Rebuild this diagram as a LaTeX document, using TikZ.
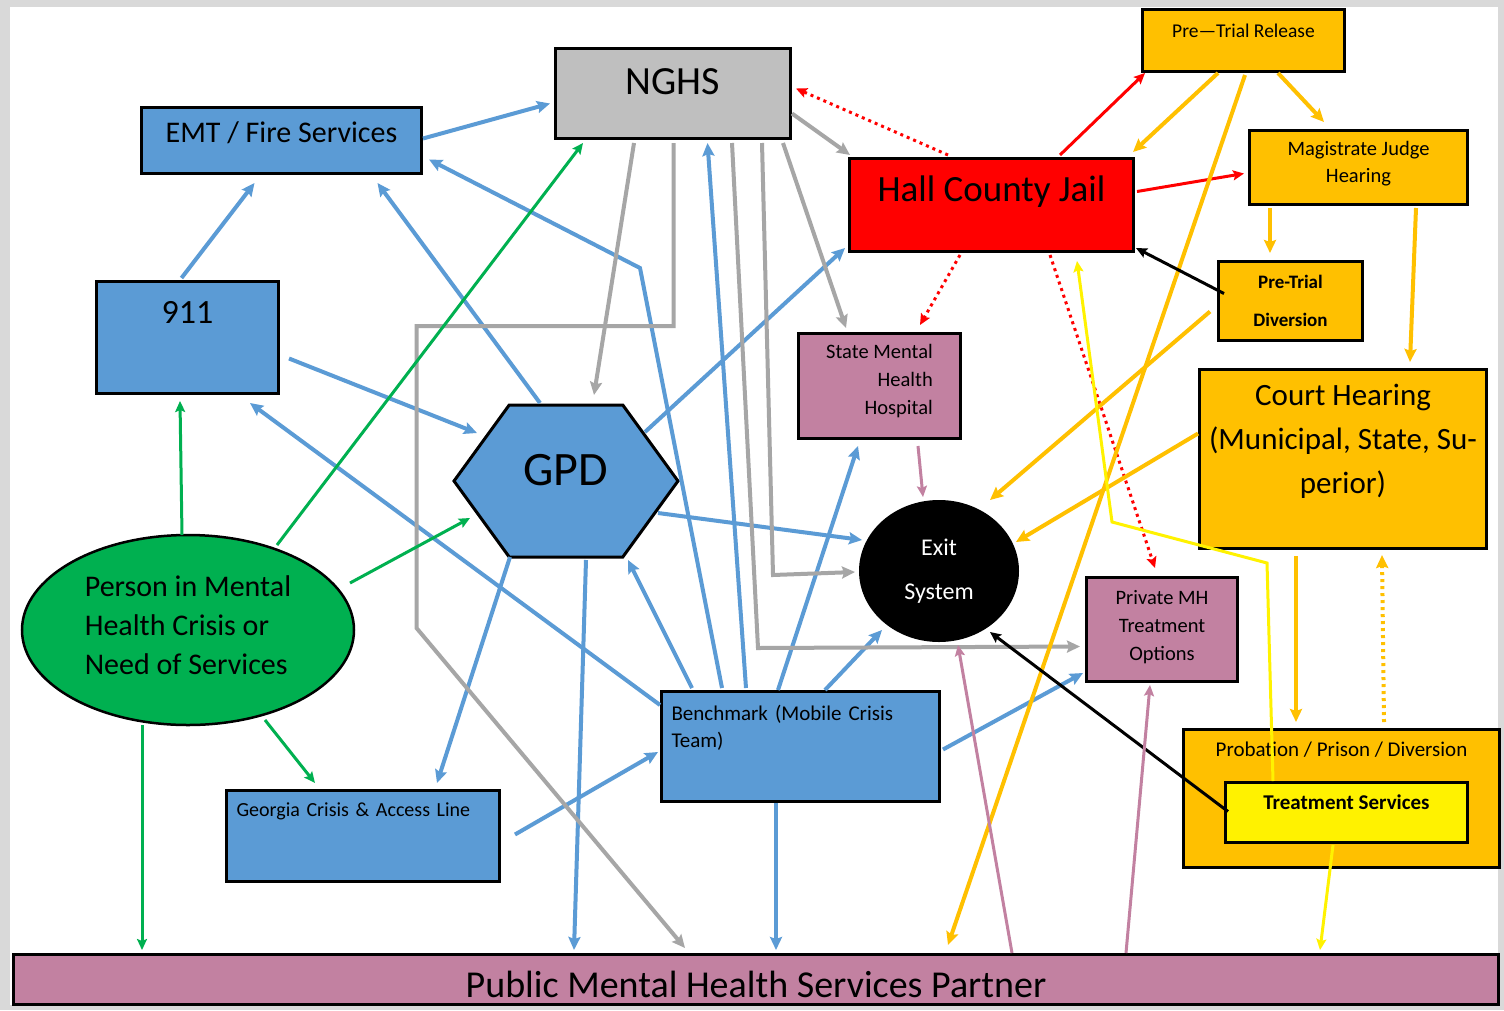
\documentclass[tikz,border=0pt]{standalone}
\usepackage{fontspec}
\setmainfont{Carlito}
\usepackage{tikz}
\usetikzlibrary{shapes.geometric, shapes.symbols, arrows.meta, positioning, calc}
\definecolor{crisisblue}{RGB}{91, 155, 213}
\definecolor{crisisgray}{RGB}{191, 191, 191}
\definecolor{linegray}{RGB}{166, 166, 166}
\definecolor{courtorange}{RGB}{255, 192, 0}
\definecolor{mhpink}{RGB}{194, 129, 161}
\definecolor{persongreen}{RGB}{0, 176, 80}
\definecolor{framegray}{RGB}{217, 217, 217}

\begin{document}
\begin{tikzpicture}[
    x=1pt, y=-1pt,
    base/.style={draw, line width=3pt, anchor=north west, inner sep=0pt, align=center},
    bluebox/.style={base, fill=crisisblue},
    orangebox/.style={base, fill=courtorange},
    pinkbox/.style={base, fill=mhpink},
    arrow/.style={-{Stealth[length=13pt, width=12pt, inset=2pt]}, line width=4pt},
    thinarrow/.style={-{Stealth[length=11pt, width=10pt, inset=2pt]}, line width=3pt},
    dots/.style={dash pattern=on 3pt off 4pt},
    bluearrow/.style={arrow, crisisblue},
    grayarrow/.style={arrow, linegray},
    orangearrow/.style={arrow, courtorange},
    redarrow/.style={thinarrow, red},
    blackarrow/.style={thinarrow, black},
    yellowarrow/.style={thinarrow, yellow},
    greenarrow/.style={thinarrow, persongreen},
    pinkarrow/.style={thinarrow, mhpink}
]

    % --- FRAME ---
    \useasboundingbox (0,0) rectangle (1504,1010);
    \fill[framegray] (0,0) rectangle (1504,1010);
    \fill[white] (10,7) rectangle (1498,1005);

    % --- FIRST RESPONDERS ---
    \node[bluebox, minimum width=280pt, minimum height=66pt, text depth=17pt, font=\fontsize{30}{36}\selectfont] (emt) at (140,106) {EMT / Fire Services};
    \node[bluebox, minimum width=182pt, minimum height=112pt, text depth=50pt, font=\fontsize{34}{40}\selectfont] (n911) at (95,280) {911};
    \node[signal, signal to=west and east, signal pointer angle=108, draw, line width=3pt, fill=crisisblue, minimum width=224pt, minimum height=152pt, inner sep=0pt, text depth=22pt, font=\fontsize{48}{56}\selectfont] (gpd) at (566,481) {GPD};
    \node[bluebox, minimum width=278pt, minimum height=110pt, text width=258pt, inner xsep=10pt, align=left, text depth=68pt, font=\fontsize{21}{27}\selectfont] (bench) at (660,690) {Benchmark (Mobile Crisis\\Team)};
    \node[bluebox, minimum width=273pt, minimum height=91pt, text width=253pt, inner xsep=10pt, align=left, text depth=53pt, font=\fontsize{20}{24}\selectfont] (gcal) at (225,789) {Georgia Crisis \& Access Line};

    % --- HOSPITALS AND EXIT ---
    \node[base, fill=crisisgray, minimum width=235pt, minimum height=90pt, text depth=24pt, font=\fontsize{40}{48}\selectfont] (nghs) at (554,47) {NGHS};
    \node[pinkbox, minimum width=162pt, minimum height=105pt, align=right, text depth=13pt, font=\fontsize{20.5}{28}\selectfont] (hosp) at (797,332) {State Mental\\Health\\Hospital};
    \node[ellipse, fill=black, text=white, minimum width=160pt, minimum height=142pt, inner sep=0pt, align=center, font=\fontsize{24}{44}\selectfont] (exit) at (939,571) {Exit\\System};
    \node[pinkbox, minimum width=151pt, minimum height=104pt, text depth=8pt, font=\fontsize{20.5}{28}\selectfont] (priv) at (1085,576) {Private MH\\Treatment\\Options};

    % --- JUSTICE ---
    \node[base, fill=red, minimum width=284pt, minimum height=93pt, text depth=33pt, font=\fontsize{37}{44}\selectfont] (jail) at (848,157) {Hall County Jail};
    \node[orangebox, minimum width=202pt, minimum height=62pt, text depth=20pt, font=\fontsize{19.5}{23}\selectfont] (release) at (1141,8) {Pre—Trial Release};
    \node[orangebox, minimum width=218pt, minimum height=74pt, text depth=11pt, font=\fontsize{20.5}{27}\selectfont] (magis) at (1248,129) {Magistrate Judge\\Hearing};
    \node[orangebox, minimum width=144pt, minimum height=79pt, font=\fontsize{19}{38}\selectfont\bfseries] (ptdiv) at (1217,260) {Pre-Trial\\Diversion};
    \node[orangebox, minimum width=287pt, minimum height=179pt, text depth=40pt, font=\fontsize{31}{44}\selectfont] (court) at (1198,368) {Court Hearing\\(Municipal, State, Su-\\perior)};
    \node[orangebox, minimum width=316pt, minimum height=138pt, text depth=98pt, font=\fontsize{21}{25}\selectfont] (prob) at (1182,728) {Probation / Prison / Diversion};
    \node[base, fill=yellow, minimum width=242pt, minimum height=60pt, text depth=20pt, font=\fontsize{21}{25}\selectfont\bfseries] (treat) at (1224,781) {Treatment Services};

    % --- PERSON AND PARTNER ---
    \node[ellipse, draw, line width=2.5pt, fill=persongreen, minimum width=332pt, minimum height=190pt, inner sep=0pt, align=left, text depth=9pt, font=\fontsize{30}{39}\selectfont] (person) at (188,630) {Person in Mental\\Health Crisis or\\Need of Services};
    \node[pinkbox, minimum width=1485pt, minimum height=50pt, text height=40pt, text depth=4pt, font=\fontsize{38}{44}\selectfont] (public) at (12,953) {Public Mental Health Services Partner};

    % --- BLUE CONNECTORS ---
    \draw[bluearrow] ($(emt.east)+(0,-2)$) -- ($(nghs.west)+(-4,10)$);
    \draw[bluearrow] ($(n911.north)+(-6,-2)$) -- ($(emt.south)+(-27,8)$);
    \draw[bluearrow] ($(gpd.center)+(-26,-78)$) -- ($(emt.south)+(96,8)$);
    \draw[bluearrow] ($(bench.north west)+(62,-2)$) -- ++(-82,-420) -- ($(emt.east)+(6,19)$);
    \draw[bluearrow] ($(bench.north west)+(86,-2)$) -- ($(nghs.south)+(34.5,3)$);
    \draw[bluearrow] ($(gpd.center)+(79,-49)$) -- ($(jail.south west)+(-3,-5)$);
    \draw[bluearrow] ($(n911.east)+(9,21)$) -- ($(gpd.center)+(-89,-48)$);
    \draw[bluearrow] ($(bench.north west)+(0,15)$) -- ($(n911.south east)+(-30,8)$);
    \draw[bluearrow] ($(gpd.center)+(92,32)$) -- ($(exit.center)+(-77,-31)$);
    \draw[bluearrow] ($(gpd.center)+(-56,76)$) -- ($(gcal.north east)+(-64,-6)$);
    \draw[bluearrow] ($(gpd.center)+(20,79)$) -- ($(public.north west)+(562,-3)$);
    \draw[bluearrow] ($(bench.north west)+(32,-2)$) -- ($(gpd.center)+(62,79)$);
    \draw[bluearrow] ($(bench.north west)+(118,0)$) -- ($(hosp.south west)+(61,6)$);
    \draw[bluearrow] ($(bench.north west)+(165,0)$) -- ($(exit.center)+(-57,59)$);
    \draw[bluearrow] ($(bench.east)+(2,3)$) -- ($(priv.south west)+(-2,-10)$);
    \draw[bluearrow] ($(gcal.east)+(14,-1.5)$) -- ($(bench.north west)+(-2,62)$);
    \draw[bluearrow] ($(bench.south west)+(116,0)$) -- ($(public.north west)+(764,-3)$);

    % --- GRAY CONNECTORS ---
    \draw[grayarrow] ($(nghs.south west)+(80,3)$) -- ($(gpd.center)+(28,-86)$);
    \draw[grayarrow] ($(nghs.south)+(0.5,3)$) -- ++(0,183) -- ++(-257,0) -- ++(0,302) -- ($(public.north west)+(673,-5)$);
    \draw[grayarrow] ($(nghs.south west)+(208,3)$) -- ++(11,432) -- ($(exit.center)+(-84,1)$);
    \draw[grayarrow] ($(nghs.south west)+(178,3)$) -- ++(26,505) -- ($(priv.west)+(-5,17)$);
    \draw[grayarrow] ($(nghs.east)+(0,20)$) -- ($(jail.north west)+(2,-2)$);
    \draw[grayarrow] ($(nghs.south east)+(-9,3)$) -- ($(hosp.north west)+(49,-4)$);

    % --- RED CONNECTORS ---
    \draw[redarrow] ($(jail.north west)+(212,-2)$) -- ($(release.south west)+(4,0)$);
    \draw[redarrow] ($(jail.east)+(2,-13.5)$) -- ($(magis.west)+(-4,6)$);
    \draw[redarrow, dots] ($(jail.north west)+(100,-2)$) -- ($(nghs.east)+(4,-5)$);
    \draw[redarrow, dots] ($(jail.south west)+(112,2)$) -- ($(hosp.north west)+(123,-7)$);
    \draw[redarrow, dots] ($(jail.south west)+(202,2)$) -- ($(priv.north west)+(70,-8)$);

    % --- ORANGE CONNECTORS ---
    \draw[orangearrow] ($(release.south west)+(77,0)$) -- ($(jail.north east)+(-2,-5)$);
    \draw[orangearrow] ($(release.south west)+(137,0)$) -- ($(magis.north west)+(76,-7)$);
    \draw[orangearrow] ($(release.south west)+(104,2)$) -- ($(public.north west)+(936,-8)$);
    \draw[orangearrow] ($(magis.south west)+(22,2)$) -- ($(ptdiv.north west)+(53,-7)$);
    \draw[orangearrow] ($(magis.south east)+(-53,2)$) -- ($(court.north west)+(212,-6)$);
    \draw[orangearrow] ($(ptdiv.west)+(-7,10.5)$) -- ($(exit.center)+(51,-71)$);
    \draw[orangearrow] ($(court.west)+(0,-25.5)$) -- ($(exit.center)+(77,-29)$);
    \draw[orangearrow] ($(court.south west)+(98,6)$) -- ($(prob.north west)+(114,-6)$);
    \draw[orangearrow, dots] ($(prob.north west)+(202,-6)$) -- ($(court.south west)+(184,5)$);

    % --- BLACK AND YELLOW CONNECTORS ---
    \draw[blackarrow] ($(ptdiv.west)+(7,-7.5)$) -- ($(jail.south east)+(1,-5)$);
    \draw[blackarrow] ($(treat.west)+(4,-1)$) -- ($(exit.center)+(51,61)$);
    \draw[yellowarrow] ($(treat.north west)+(49,0)$) -- ++(-6,-218) -- ++(-155,-41) -- ($(jail.south west)+(229,8)$);
    \draw[yellowarrow] ($(treat.south west)+(109,1)$) -- ($(public.north west)+(1308,-3)$);

    % --- GREEN CONNECTORS ---
    \draw[greenarrow] ($(person.center)+(-6,-95)$) -- ($(n911.south west)+(85,6)$);
    \draw[greenarrow] ($(person.center)+(89,-85)$) -- ($(nghs.south west)+(29,3)$);
    \draw[greenarrow] ($(person.center)+(162,-47)$) -- ($(gpd.center)+(-96,37)$);
    \draw[greenarrow] ($(person.center)+(77,90)$) -- ($(gcal.north west)+(90,-6)$);
    \draw[greenarrow] ($(person.center)+(-46,95)$) -- ($(public.north west)+(130,-3)$);

    % --- PINK CONNECTORS ---
    \draw[pinkarrow] ($(hosp.south west)+(121,6)$) -- ($(exit.center)+(-16,-74)$);
    \draw[pinkarrow] ($(public.north west)+(1000,0)$) -- ($(exit.center)+(19,74)$);
    \draw[pinkarrow] ($(public.north west)+(1114,0)$) -- ($(priv.south west)+(65,2)$);

\end{tikzpicture}
\end{document}
